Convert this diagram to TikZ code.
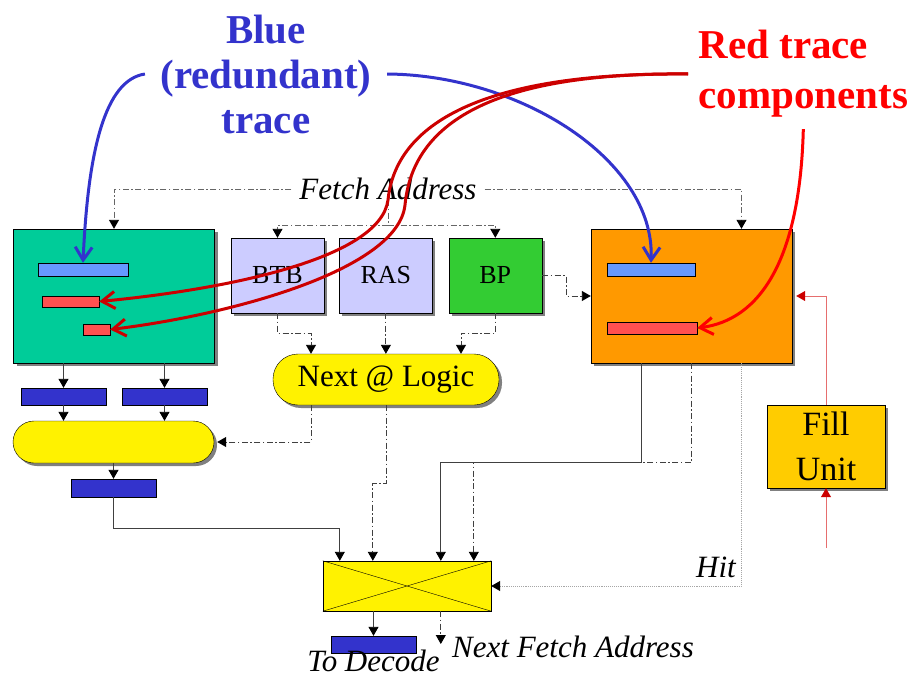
\documentclass[tikz,border=0pt]{standalone}
\usepackage{fontspec}
\setmainfont{Liberation Serif}
\usetikzlibrary{arrows.meta, shadows, positioning}

\definecolor{tcgreen}{RGB}{0,204,153}
\definecolor{tcorange}{RGB}{255,153,0}
\definecolor{lightblue}{RGB}{102,153,255}
\definecolor{lightred}{RGB}{255,80,80}
\definecolor{darkbar}{RGB}{51,51,204}
\definecolor{lilac}{RGB}{204,204,255}
\definecolor{leaf}{RGB}{51,204,51}
\definecolor{amber}{RGB}{255,204,0}
\definecolor{labelblue}{RGB}{51,51,204}
\definecolor{darkred}{RGB}{204,0,0}
\definecolor{linered}{RGB}{230,110,110}

\begin{document}
\begin{tikzpicture}[
    x = 1pt, y = -1pt,
    >= {Triangle[length=9pt, width=10pt, color=black]},
    lifted/.style = {drop shadow = {shadow xshift=3pt, shadow yshift=-3pt,
                     fill=black!50, opacity=1}},
    blockbox/.style = {draw, lifted, inner sep=0pt, font=\fontsize{26}{30}\selectfont},
    pill/.style = {blockbox, fill=yellow, font=\fontsize{31}{36}\selectfont},
    strip/.style = {draw, inner sep=0pt},
    wire/.style = {draw=black!75, line width=0.9pt},
    ctrl/.style = {wire, dash pattern=on 6pt off 2.5pt on 1.5pt off 2.5pt},
    fetchwire/.style = {ctrl, draw=black!60},
    hitwire/.style = {draw=black!35, line width=0.9pt, densely dotted},
    fillwire/.style = {draw=linered, line width=0.9pt,
                       -{Triangle[length=9pt, width=10pt, color=darkred]}},
    lbl/.style = {inner sep=0pt, font=\fontsize{31}{36}\selectfont\itshape},
    trace/.style = {line width=3pt, -{Straight Barb[length=13pt, width=17pt]}}
  ]
  \useasboundingbox (0,0) rectangle (915,677);

  % Trace caches
  \node[blockbox, fill=tcgreen, minimum width=201pt, minimum height=134pt] (blueTC) at (114,296) {};
  \node[strip, fill=lightblue, minimum width=90pt, minimum height=13pt] (blueTop) at (83,269.5) {};
  \node[strip, fill=lightred, minimum width=57pt, minimum height=11pt] (blueRedA) at (70.5,301.5) {};
  \node[strip, fill=lightred, minimum width=27pt, minimum height=11pt] (blueRedB) at (96.5,329.5) {};

  \node[blockbox, fill=tcorange, minimum width=201pt, minimum height=134pt] (redTC) at (691.5,296) {};
  \node[strip, fill=lightblue, minimum width=88pt, minimum height=13pt] (redTop) at (651,269.5) {};
  \node[strip, fill=lightred, minimum width=90pt, minimum height=12pt] (redRed) at (652,328) {};

  % Predictors
  \node[blockbox, fill=lilac, minimum width=93pt, minimum height=75pt] (btb) at (277.5,275.5) {BTB};
  \node[blockbox, fill=lilac, minimum width=93pt, minimum height=75pt, right=15pt of btb] (ras) {RAS};
  \node[blockbox, fill=leaf, minimum width=93pt, minimum height=75pt, right=16pt of ras] (bp) {BP};
  \node[pill, minimum width=226pt, minimum height=51pt, rounded corners=25pt] (nextLogic) at (386,379.5) {Next @ Logic};
  \node[blockbox, fill=amber, minimum width=118pt, minimum height=83pt, align=center,
        font=\fontsize{34}{45}\selectfont] (fill) at (826,446.5) {Fill\\Unit};

  % Left datapath
  \node[strip, fill=darkbar, minimum width=85pt, minimum height=17pt] (bankA) at (63.5,396.5) {};
  \node[strip, fill=darkbar, minimum width=85pt, minimum height=17pt] (bankB) at (164.5,396.5) {};
  \node[pill, minimum width=201pt, minimum height=42pt, rounded corners=21pt] (merge) at (113.5,442) {};
  \node[strip, fill=darkbar, minimum width=85pt, minimum height=18pt] (align) at (113.5,488) {};

  % Selection
  \node[strip, fill=yellow, minimum width=168pt, minimum height=50pt] (mux) at (407,586) {};
  \draw (mux.north west) -- (mux.south east) (mux.south west) -- (mux.north east);
  \node[strip, fill=darkbar, minimum width=85pt, minimum height=17pt] (decBar) at (373.5,644.5) {};
  \coordinate (muxA) at ([xshift=17pt]mux.north west);
  \coordinate (muxB) at ([xshift=50pt]mux.north west);
  \coordinate (muxC) at ([xshift=118pt]mux.north west);
  \coordinate (muxD) at ([xshift=151pt]mux.north west);

  % Fetch address
  \node[lbl, inner xsep=8pt] (fetch) at (388,189) {Fetch Address};
  \draw[fetchwire, ->] (fetch.west) -| (blueTC.north);
  \draw[fetchwire, ->] (fetch.east) -| ([xshift=50pt]redTC.north);
  \coordinate (fetchSplit) at (fetch.south |- 0,225);
  \draw[fetchwire] (fetch.south) -- (fetchSplit);
  \draw[fetchwire, ->] (fetchSplit) -| (btb.north);
  \draw[fetchwire, ->] (fetchSplit) -| (bp.north);

  % Predictor outputs
  \draw[ctrl, ->] (btb.south) -- ++(0,20) -| ([xshift=-75pt]nextLogic.north);
  \draw[ctrl, ->] (ras.south) -- (ras.south |- nextLogic.north);
  \draw[ctrl, ->] (bp.south) -- ++(0,20) -| ([xshift=75pt]nextLogic.north);
  \draw[ctrl, ->] (bp.east) -- ++(24,0) |- (redTC.west);

  % Fill unit
  \coordinate (fillIn) at (826,548);
  \draw[fillwire] (fillIn) -- (fill.south);
  \draw[fillwire] (fill.north) |- ([xshift=4pt]redTC.east);

  % Left datapath wires
  \draw[wire, ->] (bankA.north |- blueTC.south) -- (bankA.north);
  \draw[wire, ->] (bankB.north |- blueTC.south) -- (bankB.north);
  \draw[wire, ->] (bankA.south) -- (bankA.south |- merge.north);
  \draw[wire, ->] (bankB.south) -- (bankB.south |- merge.north);
  \draw[wire, ->] (merge.south) -- (align.north);
  \draw[wire, ->] (align.south) -- ++(0,31) -| (muxA);
  \draw[ctrl, ->] ([xshift=-75pt]nextLogic.south) |- ([xshift=3pt]merge.east);
  \draw[ctrl, ->] (nextLogic.south) -- ++(0,78) -| (muxB);

  % Trace cache outputs
  \draw[wire, ->] ([xshift=-50pt]redTC.south) -- ++(0,99) -| (muxC);
  \draw[ctrl, ->] (redTC.south) -- ++(0,99) -| (muxD);
  \draw[hitwire, ->] ([xshift=50pt]redTC.south) |- (mux.east);
  \node[lbl, anchor=base east] (hit) at (736,577) {Hit};

  % Outputs
  \draw[wire, ->] (decBar.north |- mux.south) -- (decBar.north);
  \coordinate (nextFetch) at (muxC |- 0,644);
  \draw[ctrl, ->] (muxC |- mux.south) -- (nextFetch);
  \node[lbl, anchor=base west] (nextFetchLbl) at (452,657) {Next Fetch Address};
  \node[lbl, below=-3pt of decBar] (decode) {To Decode};

  % Labels
  \node[align=center, text=labelblue, font=\fontsize{41}{45}\selectfont\bfseries] (blueLbl) at (266,74) {Blue\\(redundant)\\trace};
  \node[align=left, text=red, font=\fontsize{41}{50}\selectfont\bfseries, anchor=west] (redLbl) at (695,74) {Red trace\\components};

  \draw[trace, labelblue] ([xshift=-12pt]blueLbl.west) .. controls (105,80) and (88,150) .. (blueTop.north);
  \draw[trace, labelblue] ([xshift=12pt]blueLbl.east) .. controls (520,75) and (655,160) .. (redTop.north);
  \draw[trace, darkred] ([xshift=-7pt]redLbl.west) .. controls (470,72) and (395,130) .. (388,200)
    .. controls (380,260) and (220,290) .. (blueRedA.east);
  \draw[trace, darkred] ([xshift=-7pt]redLbl.west) .. controls (480,72) and (412,130) .. (405,205)
    .. controls (398,270) and (230,315) .. (blueRedB.east);
  \draw[trace, red] ([yshift=-8pt]redLbl.south) .. controls (800,260) and (760,320) .. (redRed.east);

\end{tikzpicture}
\end{document}
